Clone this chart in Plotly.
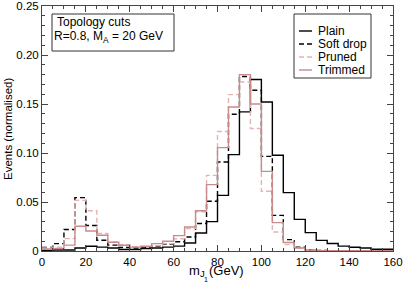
import numpy as np
import plotly.graph_objects as go

bin_edges = list(range(0, 165, 5))

plain = [0.0005, 0.001, 0.001, 0.003, 0.0048, 0.004, 0.003, 0.0015, 0.0015, 0.0025,
         0.003, 0.004, 0.005, 0.0082, 0.0184, 0.030, 0.0568, 0.0983, 0.142, 0.175,
         0.152, 0.0977, 0.0596, 0.0323, 0.0188, 0.0108, 0.0077, 0.005, 0.0038, 0.003,
         0.0018, 0.0018]
soft_drop = [0.0035, 0.0075, 0.022, 0.0545, 0.026, 0.011, 0.006, 0.0035, 0.003, 0.0035,
             0.005, 0.007, 0.0095, 0.0143, 0.028, 0.0507, 0.0908, 0.1395, 0.178, 0.164,
             0.0966, 0.0364, 0.0116, 0.004, 0.0012, 0.0006, 0.0003, 0.0003, 0.0003, 0.0003,
             0.0003, 0.0003]
pruned = [0.003, 0.004, 0.0126, 0.0517, 0.041, 0.0178, 0.0092, 0.0065, 0.0045, 0.0045,
          0.0055, 0.0075, 0.0125, 0.023, 0.040, 0.0772, 0.122, 0.1596, 0.1725, 0.125,
          0.061, 0.0194, 0.0065, 0.003, 0.001, 0.0004, 0.0004, 0.0004, 0.0004, 0.0004,
          0.0004, 0.0004]
trimmed = [0.002, 0.0025, 0.006, 0.0252, 0.0204, 0.016, 0.0089, 0.0058, 0.004, 0.0048,
           0.0075, 0.0099, 0.0157, 0.0245, 0.041, 0.0677, 0.1055, 0.147, 0.180, 0.150,
           0.0813, 0.029, 0.0086, 0.003, 0.001, 0.0004, 0.0004, 0.0004, 0.0004, 0.0004,
           0.0004, 0.0004]

series_names = ["Plain", "Soft drop", "Pruned", "Trimmed"]
series_vals = [plain, soft_drop, pruned, trimmed]
colors = ["#000000", "#000000", "#e2b4b4", "#c98a8a"]
dashes = ["solid", "5px,3px", "5px,3px", "solid"]

x_ticks = list(range(0, 161, 20))
y_ticks = [0, 0.05, 0.10, 0.15, 0.20, 0.25]
y_tick_labels = ["0", "0.05", "0.10", "0.15", "0.20", "0.25"]

W, H = 404, 286
L, R, T, B = 42, 11, 6, 35
pw, ph = W - L - R, H - T - B

def px(xpix):
    return (xpix - L) / pw

def py(ypix):
    return (H - B - ypix) / ph

fig = go.Figure()
for name, vals, c, d in zip(series_names, series_vals, colors, dashes):
    fig.add_trace(go.Scatter(
        x=bin_edges, y=list(vals) + [vals[-1]], mode="lines",
        line=dict(shape="hv", color=c, width=1.4, dash=d),
        name=name, showlegend=False))

fam = "Liberation Sans, Arial, sans-serif"
font = dict(family=fam, size=12, color="#000")
tfont = dict(family=fam, size=11.5, color="#000")
axcol = "#444"

fig.update_xaxes(range=[0, 160], tickvals=x_ticks, ticks="inside", ticklen=6,
                 tickcolor=axcol, showline=True, linecolor=axcol, linewidth=1,
                 mirror="ticks", showgrid=False, zeroline=False, automargin=False,
                 minor=dict(dtick=5, ticks="inside", ticklen=3, tickcolor=axcol),
                 tickfont=tfont)
fig.update_yaxes(range=[0, 0.25], tickvals=y_ticks, ticktext=y_tick_labels,
                 ticks="inside", ticklen=6, tickcolor=axcol, showline=True,
                 linecolor=axcol, linewidth=1, mirror="ticks", showgrid=False,
                 zeroline=False, automargin=False,
                 minor=dict(dtick=0.01, ticks="inside", ticklen=3, tickcolor=axcol),
                 tickfont=tfont)

shapes = []
annotations = []

def txt(x, y, text, f=font, xanchor="left", angle=0):
    annotations.append(dict(xref="paper", yref="paper", x=px(x), y=py(y),
                            xanchor=xanchor, yanchor="middle", text=text,
                            showarrow=False, font=f, textangle=angle, borderpad=0))

# axis titles
txt(8, 129, "Events (normalised)", f=dict(family=fam, size=11.5, color="#000"),
    xanchor="center", angle=-90)
xt = dict(family=fam, size=13, color="#000")
txt(188, 270, "m", f=xt)
txt(199, 273, "J", f=dict(family=fam, size=9.5, color="#000"))
txt(203, 279, "1", f=dict(family=fam, size=7, color="#000"))
txt(208, 270, "(GeV)", f=xt)

# info box
shapes.append(dict(type="rect", xref="paper", yref="paper",
                   x0=px(52), x1=px(174), y0=py(51), y1=py(14),
                   line=dict(color="#333", width=1), fillcolor="white"))
txt(56, 22, "Topology cuts")
txt(53, 37, "R=0.8, M<sub>A</sub> = 20 GeV")

# legend box
shapes.append(dict(type="rect", xref="paper", yref="paper",
                   x0=px(294), x1=px(371), y0=py(78), y1=py(14),
                   line=dict(color="#333", width=1), fillcolor="white"))
for i, (name, c, d) in enumerate(zip(series_names, colors, dashes)):
    yy = 31 + 13 * i
    shapes.append(dict(type="line", xref="paper", yref="paper",
                       x0=px(299), x1=px(312), y0=py(yy), y1=py(yy),
                       line=dict(color=c, width=1.4, dash=d)))
    txt(317, yy, name)

fig.update_layout(width=W, height=H, margin=dict(l=L, r=R, t=T, b=B, autoexpand=False),
                  plot_bgcolor="white", paper_bgcolor="white",
                  shapes=shapes, annotations=annotations, showlegend=False,
                  font=font)
fig.write_html("out.html", config={"displayModeBar": False},
               post_script="document.body.style.margin='0';document.body.style.overflow='hidden';")
